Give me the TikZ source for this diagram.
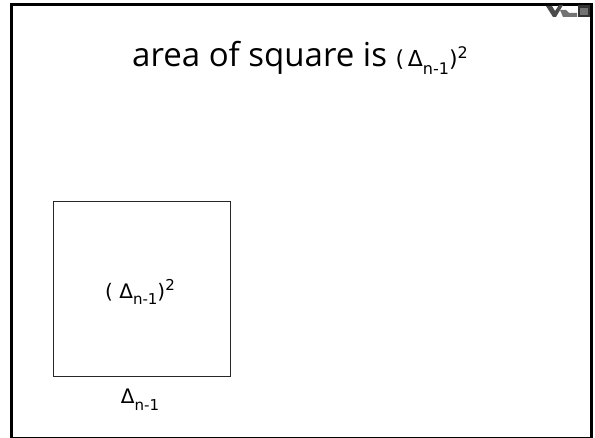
\documentclass[tikz,border=0pt]{standalone}
\usepackage{fontspec}
\setmainfont{DejaVu Sans}
\newfontfamily\titlefont{Open Sans}
\newcommand{\dsub}[1]{\raisebox{-0.33em}{\fontsize{#1}{#1}\selectfont n-1}}
\newcommand{\dsup}[1]{\raisebox{0.4em}{\fontsize{#1}{#1}\selectfont 2}}
\begin{document}
\begin{tikzpicture}[x=1pt,y=-1pt,
  frame/.style={draw=black,line width=2.6pt},
  sq/.style={draw=black!85,line width=0.9pt},
  lab/.style={font=\fontsize{20}{24}\selectfont,inner sep=0pt},
  icon/.style={fill=black!70,draw=none}]
\useasboundingbox (0,0) rectangle (595,438);
\draw[frame] (11.5,4.3) rectangle (591.5,438.6);
% title
\node[anchor=base,inner sep=0pt] (title) at (300,67)
  {\titlefont\fontsize{33}{36}\selectfont area of square is {\fontspec{DejaVu Sans}\fontsize{22}{24}\selectfont (\,Δ\dsub{16})\dsup{16}}};
% square
\node[sq,minimum width=177pt,minimum height=175pt,inner sep=0pt,anchor=north west] (square) at (53,201) {};
\node[lab] (area) at (140,292) {( Δ\dsub{15})\dsup{15}};
\node[lab] (side) at (140,400) {Δ\dsub{15}};
% icon
\fill[icon] (546,6) -- (552,6) -- (555,11) -- (559,5) -- (563,5) -- (556,17) -- (553,17) -- cycle;
\fill[black!55] (560,10) -- (566,10) -- (569,13) -- (577,13) -- (577,17) -- (563,17) -- cycle;
\fill[black!80] (578,5) rectangle (590,17);
\fill[black!55] (580,8) rectangle (588,15);
\end{tikzpicture}
\end{document}
